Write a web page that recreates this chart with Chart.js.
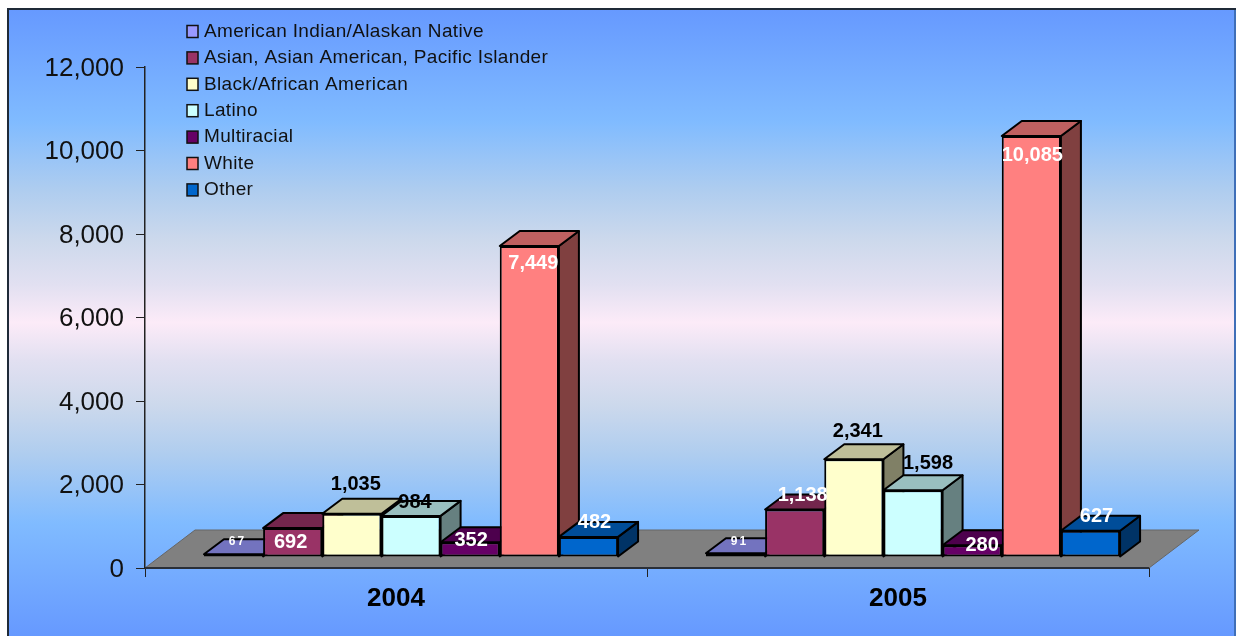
<!DOCTYPE html>
<html>
<head>
<meta charset="utf-8">
<title>Enrollment 2004-2005</title>
<script src="https://cdn.jsdelivr.net/npm/chart.js@4/dist/chart.umd.min.js"></script>
<style>
  html, body { margin: 0; padding: 0; background: #fff; }
  canvas { display: block; }
</style>
</head>
<body>
<canvas id="myChart" width="1236" height="636"></canvas>
<script>
const years = ['2004', '2005'];
const grupos = ['American Indian/Alaskan Native', 'Asian, Asian American, Pacific Islander', 'Black/African American', 'Latino', 'Multiracial', 'White', 'Other'];
const indian = [67, 91];
const asian = [692, 1138];
const black = [1035, 2341];
const latino = [984, 1598];
const multi = [352, 280];
const white = [7449, 10085];
const other = [482, 627];
const yTicks = [0, 2000, 4000, 6000, 8000, 10000, 12000];
const colores = ['#9999FF', '#993366', '#FFFFCC', '#CCFFFF', '#660066', '#FF8080', '#0066CC'];

const series = [indian, asian, black, latino, multi, white, other];
const ctx = document.getElementById('myChart');

// offset of the bars inside the 3d floor, and depth of a bar
const shiftX = 15, shiftY = -11;
const depthX = 20, depthY = -15;
const floorX = 50, floorY = -38;

// label placement, [dx, dy] from the middle of the front top edge, one per bar
const labelPos = [
    [[4, -13], [4, -12]],
    [[-2, 14], [8, -14]],
    [[4, -29], [4, -28]],
    [[4, -13], [15, -27]],
    [[1, -2], [10, 0]],
    [[4, 17], [1, 20]],
    [[6, -14], [6, -14]]
];
const labelColor = ['#fff', '#fff', '#000', '#000', '#fff', '#fff', '#fff'];

const shade = (hex, k) => {
    const n = parseInt(hex.slice(1), 16);
    const r = Math.round((n >> 16 & 255) * k);
    const g = Math.round((n >> 8 & 255) * k);
    const b = Math.round((n & 255) * k);
    return `rgb(${r},${g},${b})`;
};

const cara = (c, pts, fill) => {
    c.beginPath();
    pts.forEach((p, i) => i ? c.lineTo(p[0], p[1]) : c.moveTo(p[0], p[1]));
    c.closePath();
    c.fillStyle = fill;
    c.fill();
    c.stroke();
};

const fondo = {
    id: 'fondo',
    beforeDraw(chart) {
        const c = chart.ctx;
        const g = c.createLinearGradient(0, 9, 0, 636);
        g.addColorStop(0, '#6699FF');
        g.addColorStop(0.18, '#80BBFF');
        g.addColorStop(0.29, '#AFCDEF');
        g.addColorStop(0.37, '#CDD9EC');
        g.addColorStop(0.44, '#E2E0F1');
        g.addColorStop(0.5, '#FCEBF8');
        g.addColorStop(0.56, '#E2E0F1');
        g.addColorStop(0.63, '#CDD9EC');
        g.addColorStop(0.71, '#AFCDEF');
        g.addColorStop(0.82, '#80BBFF');
        g.addColorStop(1, '#6699FF');
        c.save();
        c.fillStyle = g;
        c.fillRect(8, 9, 1228, 627);
        c.fillStyle = '#1f2a38';
        c.fillRect(7, 8, 1229, 2);
        c.fillRect(7, 8, 2, 628);
        c.fillStyle = '#3f6fb8';
        c.fillRect(1234, 10, 2, 626);
        c.restore();
    },
    beforeDatasetsDraw(chart) {
        const c = chart.ctx;
        const a = chart.chartArea;
        c.save();
        c.lineWidth = 1;
        c.strokeStyle = '#666';
        cara(c, [[a.left, a.bottom], [a.right, a.bottom], [a.right + floorX, a.bottom + floorY], [a.left + floorX, a.bottom + floorY]], '#808080');
        c.strokeStyle = '#2a2f38';
        c.lineWidth = 2;
        c.beginPath();
        c.moveTo(a.left, a.bottom);
        c.lineTo(a.right, a.bottom);
        c.stroke();
        c.restore();
    }
};

// the library paints right to left, the 3d look needs left to right so
// its own pass is skipped and every dataset is drawn here in order
const barras3d = {
    id: 'barras3d',
    beforeDatasetDraw() {
        return false;
    },
    afterDatasetsDraw(chart) {
        const c = chart.ctx;
        series.forEach((valores, i) => {
            const meta = chart.getDatasetMeta(i);
            const col = colores[i];
            c.save();
            c.strokeStyle = '#000';
            c.lineWidth = 2;
            c.lineJoin = 'round';
            meta.data.forEach((bar) => {
                const l = bar.x - bar.width / 2 + shiftX;
                const r = bar.x + bar.width / 2 + shiftX;
                const t = bar.y + shiftY;
                const b = bar.base + shiftY;
                cara(c, [[r, b], [r, t], [r + depthX, t + depthY], [r + depthX, b + depthY]], shade(col, 0.5));
                cara(c, [[l, t], [r, t], [r + depthX, t + depthY], [l + depthX, t + depthY]], shade(col, 0.75));
            });
            c.translate(shiftX, shiftY);
            meta.controller.draw();
            c.restore();
        });

        c.save();
        c.textAlign = 'center';
        c.textBaseline = 'middle';
        series.forEach((valores, i) => {
            const meta = chart.getDatasetMeta(i);
            valores.forEach((v, j) => {
                const bar = meta.data[j];
                const p = labelPos[i][j];
                c.fillStyle = labelColor[i];
                c.font = i === 0 ? 'bold 12px "Liberation Sans"' : 'bold 20px "Liberation Sans"';
                c.letterSpacing = i === 0 ? '2px' : '0px';
                c.fillText(v.toLocaleString('en-US'), bar.x + shiftX + p[0], bar.y + shiftY + p[1]);
            });
        });
        c.restore();
    }
};

const leyenda = {
    id: 'leyenda',
    afterDraw(chart) {
        const c = chart.ctx;
        c.save();
        c.font = '19px "Liberation Sans"';
        c.letterSpacing = '0.35px';
        c.textAlign = 'left';
        c.textBaseline = 'middle';
        grupos.forEach((g, i) => {
            const y = 31.5 + i * 26.4;
            c.fillStyle = colores[i];
            c.strokeStyle = '#111';
            c.lineWidth = 1.5;
            c.fillRect(187, y - 6, 11, 12);
            c.strokeRect(187, y - 6, 11, 12);
            c.fillStyle = '#111';
            c.fillText(g, 204, y);
        });
        c.restore();
    }
};

new Chart(ctx, {
    type: 'bar',
    data: {
        labels: years,
        datasets: series.map((valores, i) => ({
            label: grupos[i],
            data: valores,
            backgroundColor: colores[i],
            borderColor: '#000',
            borderWidth: 2,
            borderSkipped: false,
            clip: false
        }))
    },
    options: {
        responsive: false,
        animation: false,
        layout: { padding: { top: 67, right: 87, left: 0, bottom: 0 } },
        datasets: { bar: { categoryPercentage: 0.825, barPercentage: 1 } },
        plugins: { legend: { display: false }, tooltip: { enabled: false } },
        scales: {
            x: {
                afterFit: (s) => { s.height = 68; },
                grid: { display: true, offset: true, drawOnChartArea: false, color: '#222', tickLength: 9 },
                border: { color: '#222', width: 2 },
                ticks: { color: '#000', padding: 6, font: { family: 'Liberation Sans', size: 26, weight: 'bold' } }
            },
            y: {
                min: 0,
                max: 12000,
                afterFit: (s) => { s.width = 145; },
                afterBuildTicks: (s) => { s.ticks = yTicks.map((v) => ({ value: v })); },
                grid: { drawOnChartArea: false, color: '#222', tickLength: 9 },
                border: { color: '#222', width: 1.5 },
                ticks: {
                    color: '#111',
                    padding: 12,
                    labelOffset: 1.5,
                    font: { family: 'Liberation Sans', size: 26 },
                    callback: (v) => v.toLocaleString('en-US')
                }
            }
        }
    },
    plugins: [fondo, barras3d, leyenda]
});
</script>
</body>
</html>
